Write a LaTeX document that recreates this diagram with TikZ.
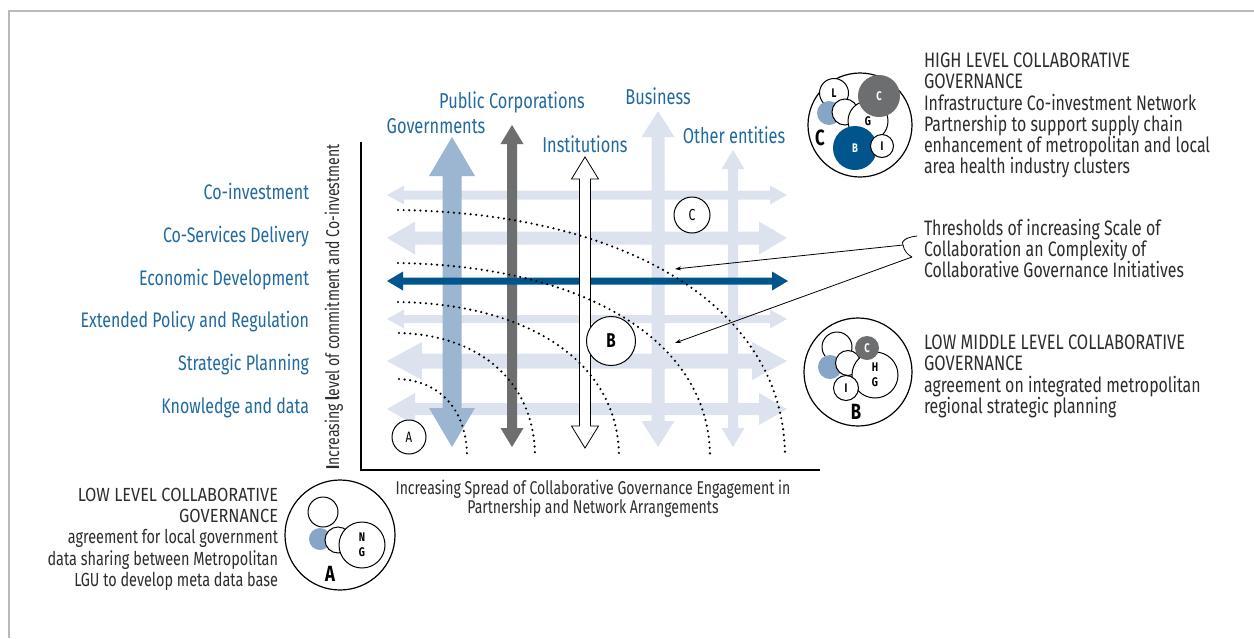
\documentclass[tikz,border=0pt]{standalone}
\usepackage{fontspec}
\setmainfont{Fira Sans}[FakeStretch=0.76]
\newfontfamily\capsR{Fira Sans}[FakeStretch=0.785]
\newfontfamily\capsL{Fira Sans}[FakeStretch=0.86]
\usetikzlibrary{arrows.meta}
\definecolor{lightarr}{RGB}{221,227,238}
\definecolor{govblue}{RGB}{156,181,208}
\definecolor{circblue}{RGB}{135,165,198}
\definecolor{darkblue}{RGB}{0,85,140}
\definecolor{darkgray}{RGB}{109,110,112}
\definecolor{labblue}{RGB}{33,106,160}
\definecolor{txtgray}{RGB}{45,45,45}
\definecolor{framegray}{RGB}{185,185,185}
% vertical double arrow: x, ytop, ybot, shaft half, head half, head length
\newcommand\myVarrow[6]{(#1,#2) -- (#1+#5,#2+#6) -- (#1+#4,#2+#6) -- (#1+#4,#3-#6) -- (#1+#5,#3-#6) -- (#1,#3) -- (#1-#5,#3-#6) -- (#1-#4,#3-#6) -- (#1-#4,#2+#6) -- (#1-#5,#2+#6) -- cycle}
% horizontal double arrow: y, xleft, xright, shaft half, head half, head length
\newcommand\myHarrow[6]{(#2,#1) -- (#2+#6,#1-#5) -- (#2+#6,#1-#4) -- (#3-#6,#1-#4) -- (#3-#6,#1-#5) -- (#3,#1) -- (#3-#6,#1+#5) -- (#3-#6,#1+#4) -- (#2+#6,#1+#4) -- (#2+#6,#1+#5) -- cycle}
\begin{document}
\begin{tikzpicture}[x=1pt,y=-1pt, line join=miter,
 every node/.style={inner sep=0pt, outer sep=0pt},
 rowlab/.style={anchor=base east, text=labblue, font=\fontsize{21}{22}\selectfont},
 collab/.style={anchor=base, text=labblue, font=\fontsize{21.5}{24}\selectfont},
 desc/.style={anchor=north west, align=left, text=txtgray, font=\fontsize{20.9}{21.25}\selectfont},
 descr/.style={anchor=north east, align=right, text=txtgray, font=\fontsize{19}{21.25}\selectfont},
 axlab/.style={text=txtgray, font=\fontsize{18.5}{19.5}\selectfont},
 bubble/.style={circle, draw=black, line width=1pt, fill=white, inner sep=0pt},
 outerc/.style={circle, draw=black, line width=1.2pt, inner sep=0pt},
 disc/.style={circle, inner sep=0pt},
 tinylab/.style={font=\fontsize{12.5}{15}\bfseries\selectfont, align=center},
 biglet/.style={font=\fontsize{22}{22}\bfseries\selectfont},
 marker/.style={circle, draw=black, line width=1pt, fill=white, inner sep=0pt},
 dotcurve/.style={line width=2.4pt, line cap=round, dash pattern=on 0pt off 5.6pt},
 leader/.style={line width=0.8pt, -{Stealth[length=6pt,width=4pt]}},
]
\useasboundingbox (0,0) rectangle (1254,638);
\fill[white] (0,0) rectangle (1254,638);
% frame
\draw[framegray, line width=2pt] (9,638) -- (9,11) -- (1254,11);

% axes
\coordinate (ytop) at (361,142);
\coordinate (O) at (361,470);
\coordinate (xend) at (820,470);
\draw[line width=1.3pt] (ytop) -- (O) -- (xend);

% light horizontal arrows
\fill[lightarr] \myHarrow{195}{387}{787}{4.5}{9.5}{17};
\fill[lightarr] \myHarrow{238}{387}{787}{6.5}{16.5}{28};
\fill[lightarr] \myHarrow{319}{387}{787}{4}{9.5}{17};
\fill[lightarr] \myHarrow{361}{387}{787}{7.5}{19}{35};
\fill[lightarr] \myHarrow{409}{387}{787}{6}{16}{28};
% light vertical arrows
\fill[lightarr] \myVarrow{658}{111}{447}{6.5}{16.5}{26};
\fill[lightarr] \myVarrow{733}{150}{447}{5}{11.5}{19};
% governments and public corporations
\fill[govblue] \myVarrow{452}{137}{447}{9.5}{23}{39};
\fill[darkgray] \myVarrow{512}{125}{447}{5}{11.5}{19};
% economic development
\fill[darkblue] \myHarrow{281}{387}{788}{3.5}{9.5}{16};
% institutions
\filldraw[fill=white, draw=black, line width=0.8pt] \myVarrow{585}{157}{448}{5.5}{13.5}{22};

% markers
\node[marker, minimum size=34pt, font=\fontsize{15}{15}\selectfont] (mA) at (409,437) {A};
\node[marker, minimum size=49pt, font=\fontsize{20}{20}\bfseries\selectfont] (mB) at (611,341) {B};
\node[marker, minimum size=36pt, font=\fontsize{16}{16}\selectfont] (mC) at (692,215) {C};

% thresholds
\draw[dotcurve] (398,210) .. controls (630,213) and (785,309) .. (785,457);
\draw[dotcurve] (398,263) .. controls (585,266) and (710,341) .. (710,457);
\draw[dotcurve] (398,302) .. controls (531,304) and (619,364) .. (619,457);
\draw[dotcurve] (399,333) .. controls (481,335) and (535,383) .. (535,457);
\draw[dotcurve] (399,379) .. controls (440,381) and (467,410) .. (467,457);

% leaders
\coordinate (t1) at (675,269);
\coordinate (t2) at (675,343);
\coordinate (b1) at (903,245);
\coordinate (b2) at (912,257);
\draw[line width=0.8pt] (917,236) .. controls (907,237) and (900,241) .. (b1) .. controls (904,251) and (908,255) .. (b2);
\draw[leader] (b1) -- (t1);
\draw[leader] (b2) -- (t2);

% row labels
\node[rowlab] (r1) at (309,199) {Co-investment};
\node[rowlab] (r2) at (309,242) {Co-Services Delivery};
\node[rowlab] (r3) at (309,285) {Economic Development};
\node[rowlab] (r4) at (309,327) {Extended Policy and Regulation};
\node[rowlab] (r5) at (309,370) {Strategic Planning};
\node[rowlab] (r6) at (309,413) {Knowledge and data};

% column labels
\node[collab] (c1) at (436,133) {Governments};
\node[collab] (c2) at (512,108) {Public Corporations};
\node[collab] (c3) at (658,104) {Business};
\node[collab] (c4) at (585,152) {Institutions};
\node[collab] (c5) at (734,143) {Other entities};

% axis labels
\node[axlab, rotate=90] (ylab) at (334,307) {\textbf{I}ncreasing \textbf{l}evel of commitment and Co-investment};
\node[axlab, align=center] (xlab) at (593,498.5) {Increasing Spread of Collaborative Governance Engagement in\\Partnership and Network Arrangements};

% descriptions
\node[desc] (dC) at (924,53) {{\capsR HIGH LEVEL COLLABORATIVE}\\{\capsR GOVERNANCE}\\Infrastructure Co-investment Network\\Partnership to support supply chain\\enhancement of metropolitan and local\\area health industry clusters};
\node[desc] (dT) at (924,219) {Thresholds of increasing Scale of\\Collaboration an Complexity of\\Collaborative Governance Initiatives};
\node[desc] (dB) at (924,335) {{\capsR LOW MIDDLE LEVEL COLLABORATIVE}\\{\capsR GOVERNANCE}\\agreement on integrated metropolitan\\regional strategic planning};
\node[descr] (dA) at (278,488) {{\capsL LOW LEVEL COLLABORATIVE}\\{\capsL GOVERNANCE}\\agreement for local government\\data sharing between Metropolitan\\LGU to develop meta data base};

% diagram C
\node[outerc, minimum size=104pt] (Cout) at (860,125) {};
\node[bubble, minimum size=29pt, tinylab] (CL) at (834,93) {L};
\node[disc, fill=circblue, minimum size=24pt] (Cbl) at (829,113) {};
\node[bubble, minimum size=26pt] (Cw) at (845,112) {};
\node[bubble, minimum size=40pt, tinylab] (CG) at (868,121) {G};
\node[disc, fill=darkgray, minimum size=42pt, tinylab, text=white] (CC) at (879,96) {C};
\node[disc, fill=darkblue, minimum size=44pt, tinylab, text=white] (CB) at (855,148) {B};
\node[bubble, minimum size=23pt, tinylab] (CI) at (882,146) {I};
\node[biglet] (Clet) at (820,138) {C};

% diagram B
\node[outerc, minimum size=108pt] (Bout) at (858,372) {};
\node[bubble, minimum size=30pt] (Btl) at (837,347) {};
\node[disc, fill=circblue, minimum size=24pt] (Bbl) at (830,367) {};
\node[bubble, minimum size=25pt] (Bw) at (848,363) {};
\node[bubble, minimum size=46pt, tinylab] (BHG) at (875,375) {H\\G};
\node[disc, fill=darkgray, minimum size=24pt, tinylab, text=white] (BC) at (867,348) {C};
\node[bubble, minimum size=25pt, tinylab] (BI) at (846,388) {I};
\node[biglet] (Blet) at (856,412) {B};

% diagram A
\node[outerc, minimum size=110pt] (Aout) at (340,535) {};
\node[bubble, minimum size=30pt] (Atl) at (323,512) {};
\node[disc, fill=circblue, minimum size=22pt] (Abl) at (320,539) {};
\node[bubble, minimum size=26pt] (Aw) at (338,540) {};
\node[bubble, minimum size=46pt, tinylab] (ANG) at (362,545) {N\\G};
\node[biglet] (Alet) at (330,574) {A};
\end{tikzpicture}
\end{document}
